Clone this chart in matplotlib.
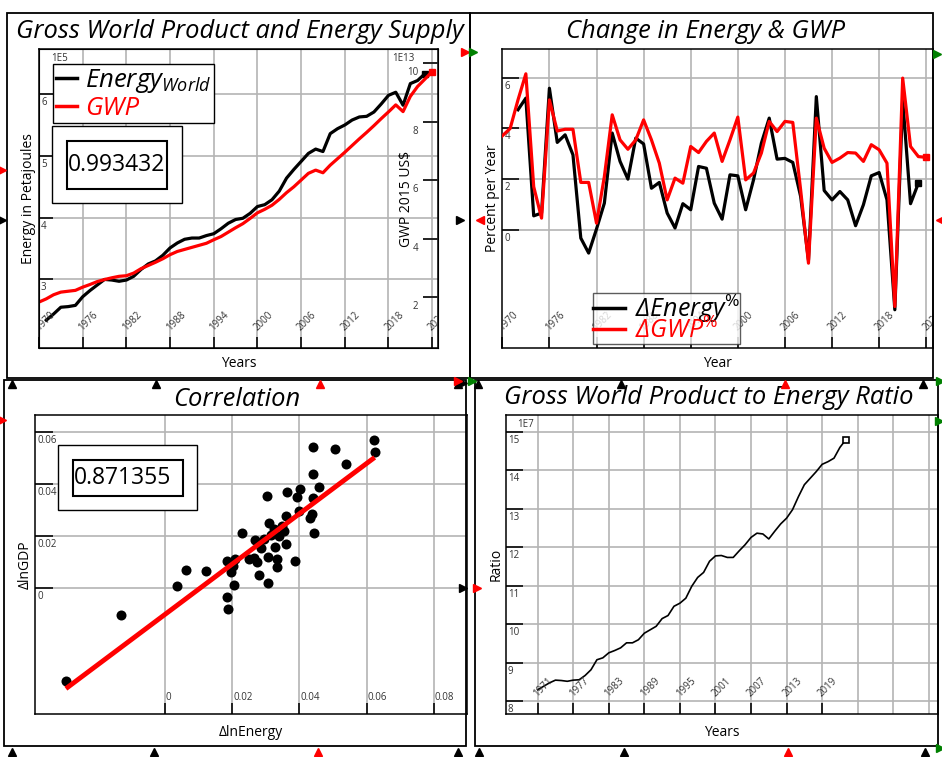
import numpy as np
import matplotlib.pyplot as plt
from matplotlib.patches import Rectangle
from matplotlib.lines import Line2D

# ---- data ----
energy_years = list(range(1971, 2024))
energy_world = [2.34, 2.44, 2.55, 2.56, 2.58, 2.72, 2.82, 2.91, 3.00, 2.99,
                2.97, 2.99, 3.05, 3.16, 3.25, 3.30, 3.39, 3.51, 3.59, 3.65,
                3.67, 3.67, 3.71, 3.74, 3.82, 3.91, 3.97, 3.99, 4.07, 4.18,
                4.21, 4.29, 4.43, 4.64, 4.78, 4.91, 5.04, 5.11, 5.07, 5.36,
                5.44, 5.50, 5.58, 5.63, 5.64, 5.71, 5.84, 5.98, 6.03, 5.82,
                6.17, 6.22, 6.33]  # 1E5 PJ

gwp_years = list(range(1970, 2025))
gwp = [1.83, 1.94, 2.08, 2.17, 2.20, 2.23, 2.34, 2.43, 2.53, 2.60,
       2.66, 2.71, 2.73, 2.82, 2.97, 3.08, 3.19, 3.31, 3.45, 3.56,
       3.63, 3.70, 3.77, 3.84, 3.96, 4.07, 4.22, 4.37, 4.51, 4.69,
       4.88, 5.00, 5.14, 5.34, 5.57, 5.77, 6.00, 6.23, 6.34, 6.25,
       6.51, 6.73, 6.95, 7.18, 7.41, 7.63, 7.86, 8.10, 8.33, 8.57,
       8.34, 8.86, 9.20, 9.45, 9.71]  # 1E13 2015 US$

d_energy_years = list(range(1972, 2024))
d_energy = [4.74, 5.20, 0.55, 0.66, 5.59, 3.45, 3.75, 2.96, -0.33, -0.92,
            0.03, 1.05, 3.82, 2.70, 2.00, 3.62, 3.39, 1.64, 1.87, 0.66,
            0.07, 1.03, 0.79, 2.50, 2.43, 1.05, 0.42, 2.17, 2.13, 0.79,
            1.97, 3.42, 4.41, 2.79, 2.82, 2.66, 1.32, -1.20, 5.26, 1.55,
            1.18, 1.51, 1.18, 0.16, 0.99, 2.13, 2.26, 1.18, -3.16, 5.13,
            1.03, 1.84]

d_gwp_years = list(range(1970, 2025))
d_gwp = [3.71, 4.00, 5.13, 6.16, 1.70, 0.46, 5.13, 3.90, 3.97, 3.97,
         1.87, 1.87, 0.26, 2.10, 4.54, 3.55, 3.18, 3.55, 4.34, 3.55,
         2.63, 1.18, 2.04, 1.84, 3.29, 3.05, 3.49, 3.82, 2.70, 3.55,
         4.45, 1.97, 2.24, 3.03, 4.28, 3.88, 4.28, 4.24, 1.58, -1.32,
         4.41, 3.22, 2.66, 2.83, 3.05, 3.03, 2.70, 3.36, 3.16, 2.63,
         -3.03, 5.99, 3.29, 2.89, 2.86]

dln_energy = [-0.0295, -0.0132, 0.0037, 0.0063, 0.0123, 0.0185, 0.0208, 0.0196,
              0.0203, 0.0206, 0.0185, 0.0188, 0.0228, 0.0251, 0.0269, 0.0266,
              0.0275, 0.0279, 0.0287, 0.0295, 0.0306, 0.0308, 0.0304, 0.0311,
              0.0323, 0.0328, 0.0333, 0.0334, 0.0347, 0.0353, 0.0359, 0.0360,
              0.0364, 0.0387, 0.0392, 0.0402, 0.0399, 0.0432, 0.0437, 0.0444,
              0.0442, 0.0440, 0.0459, 0.0442, 0.0505, 0.0540, 0.0622, 0.0624,
              0.0316, 0.0340]
dln_gdp = [-0.0357, -0.0104, 0.0008, 0.0071, 0.0064, 0.0103, 0.0112, 0.0060,
           0.0083, 0.0010, -0.0033, -0.0083, 0.0211, 0.0112, 0.0186, 0.0116,
           0.0099, 0.0049, 0.0154, 0.0188, 0.0021, 0.0118, 0.0353, 0.0250,
           0.0229, 0.0157, 0.0113, 0.0080, 0.0238, 0.0218, 0.0170, 0.0276,
           0.0369, 0.0105, 0.0351, 0.0382, 0.0295, 0.0270, 0.0285, 0.0212,
           0.0347, 0.0441, 0.0388, 0.0543, 0.0536, 0.0478, 0.0572, 0.0525,
           0.0205, 0.0200]
fit_slope = 0.97
fit_intercept = -0.0102

ratio_years = list(range(1971, 2024))
ratio = [8.30, 8.39, 8.48, 8.55, 8.54, 8.52, 8.55, 8.56, 8.67, 8.82,
         9.08, 9.13, 9.26, 9.32, 9.39, 9.52, 9.52, 9.60, 9.77, 9.86,
         9.95, 10.15, 10.23, 10.47, 10.55, 10.68, 10.99, 11.22, 11.35, 11.64,
         11.78, 11.79, 11.74, 11.74, 11.91, 12.07, 12.26, 12.37, 12.35, 12.22,
         12.42, 12.61, 12.76, 12.98, 13.32, 13.63, 13.80, 13.97, 14.16, 14.23,
         14.32, 14.60, 14.80]  # 1E7

corr_gwp_energy = '0.993432'
corr_dln = '0.871355'

# ---- style ----
W, H = 942, 757
plt.rcParams['font.family'] = ['Open Sans', 'DejaVu Sans']
plt.rcParams['mathtext.fontset'] = 'custom'
plt.rcParams['mathtext.rm'] = 'Open Sans'
plt.rcParams['mathtext.it'] = 'Open Sans:italic'
GRID = '#b4b4b4'
TICKC = '#333333'
TICKFS = 7

fig = plt.figure(figsize=(W / 100, H / 100), dpi=100)


def fx(x):
    return x / W


def fy(y):
    return 1 - y / H


def px_axes(x0, y0, x1, y1):
    return fig.add_axes([fx(x0), fy(y1), (x1 - x0) / W, (y1 - y0) / H])


def base_style(ax, xgrid, ygrid, xticks, yticks, ylen=11):
    for v in xgrid:
        ax.axvline(v, color=GRID, lw=1.2, zorder=0)
    for v in ygrid:
        ax.axhline(v, color=GRID, lw=1.2, zorder=0)
    ax.set_xticks(xticks)
    ax.set_yticks(yticks)
    ax.tick_params(axis='x', direction='in', length=8, width=1.4, color='#222222',
                   labelbottom=False)
    ax.tick_params(axis='y', direction='in', length=ylen, width=1.4, color='#222222',
                   labelleft=False)
    for s in ax.spines.values():
        s.set_linewidth(1.1)


def rot_labels(ax, years, clip=True):
    for yr in years:
        t = ax.annotate(str(yr), xy=(yr, 0), xycoords=('data', 'axes fraction'),
                        xytext=(2, 15), textcoords='offset pixels', rotation=45,
                        rotation_mode='anchor', ha='left', va='bottom',
                        fontsize=TICKFS, color=TICKC)
        if clip:
            t.set_clip_path(ax.patch)


def left_labels(ax, vals, fmt):
    for v in vals:
        ax.annotate(fmt(v), xy=(0, v), xycoords=('axes fraction', 'data'),
                    xytext=(2, -3), textcoords='offset pixels', ha='left', va='top',
                    fontsize=TICKFS, color=TICKC)


# ---- Gross World Product and Energy Supply ----
ax1 = px_axes(39, 49, 438, 348)
ax1.set_xlim(1970, 2024.8)
ax1.set_ylim(1.89, 6.73)
base_style(ax1, range(1976, 2025, 6), [3, 4, 5, 6], range(1970, 2025, 6), [3, 4, 5, 6], ylen=10)
ax1.plot(energy_years, energy_world, color='black', lw=2.3)
ax1.plot(energy_years[-1], energy_world[-1], 's', color='black', ms=5)
rot_labels(ax1, range(1970, 2025, 6))
left_labels(ax1, [3, 4, 5, 6], lambda v: str(v))
ax1.text(0.03, 0.985, '1E5', transform=ax1.transAxes, fontsize=TICKFS, color=TICKC, va='top')

ax1r = ax1.twinx()
ax1r.set_ylim(0.26, 10.48)
ax1r.set_yticks([2, 4, 6, 8, 10])
ax1r.tick_params(axis='y', direction='in', length=11, width=1.4, color='#222222',
                 labelright=False)
ax1r.plot(gwp_years, gwp, color='red', lw=2.3)
ax1r.plot(gwp_years[-1], gwp[-1], 's', color='red', ms=5)
for v in [2, 4, 6, 8, 10]:
    ax1r.annotate(str(v), xy=(1, v), xycoords=('axes fraction', 'data'),
                  xytext=(-20, -4), textcoords='offset pixels', ha='right', va='top',
                  fontsize=TICKFS, color=TICKC)
ax1r.text(0.885, 0.985, '1E13', transform=ax1r.transAxes, fontsize=TICKFS, color=TICKC, va='top')
ax1r.set_ylabel('GWP 2015 US$', fontsize=10, labelpad=-28)
ax1.set_ylabel('Energy in Petajoules', fontsize=10, labelpad=2)
ax1.set_xlabel('Years', fontsize=10, labelpad=6)

leg1 = ax1r.legend(handles=[Line2D([], [], color='black', lw=2.5),
                            Line2D([], [], color='red', lw=2.5)],
                   labels=[r'Energy$_{\mathit{World}}$', 'GWP'],
                   loc='upper left', bbox_to_anchor=(0.035, 0.95),
                   prop={'size': 18.5, 'style': 'italic'}, labelcolor=['black', 'red'],
                   fancybox=False, edgecolor='black', framealpha=1, borderpad=0.1,
                   handlelength=0.85, handletextpad=0.3, labelspacing=0.05,
                   borderaxespad=0)
leg1.get_frame().set_linewidth(1.0)
ax1r.add_patch(Rectangle((0.033, 0.485), 0.325, 0.257, transform=ax1r.transAxes,
                         facecolor='white', edgecolor='black', lw=1.0, zorder=5))
ax1r.add_patch(Rectangle((0.070, 0.532), 0.251, 0.160, transform=ax1r.transAxes,
                         facecolor='white', edgecolor='black', lw=1.5, zorder=6))
ax1r.text(0.072, 0.612, corr_gwp_energy, transform=ax1r.transAxes, fontsize=16.5,
          ha='left', va='center', zorder=7)

# ---- Change in Energy & GWP ----
ax2 = px_axes(502.3, 49, 933.3, 348)
ax2.set_xlim(1970, 2024.9)
ax2.set_ylim(-4.67, 7.14)
base_style(ax2, range(1976, 2025, 6), [0, 2, 4, 6], range(1970, 2025, 6), [0, 2, 4, 6], ylen=12)
ax2.plot(d_energy_years, d_energy, color='black', lw=2.3, zorder=3)
ax2.plot(d_energy_years[-1], d_energy[-1], 's', color='black', ms=5, zorder=3)
ax2.plot(d_gwp_years, d_gwp, color='red', lw=2.3, zorder=4)
ax2.plot(d_gwp_years[-1], d_gwp[-1], 's', color='red', ms=5, zorder=4)
rot_labels(ax2, range(1970, 2025, 6))
left_labels(ax2, [0, 2, 4, 6], lambda v: str(v))
ax2.set_ylabel('Percent per Year', fontsize=10, labelpad=2)
ax2.set_xlabel('Year', fontsize=10, labelpad=6)
leg2 = ax2.legend(handles=[Line2D([], [], color='black', lw=2.5),
                           Line2D([], [], color='red', lw=2.5)],
                  labels=['ΔEnergy$^{\\%}$', 'ΔGWP$^{\\%}$'],
                  loc='lower left', bbox_to_anchor=(0.21, 0.013),
                  prop={'size': 18, 'style': 'italic'}, labelcolor=['black', 'red'],
                  fancybox=False, edgecolor='#333333', framealpha=0.8, borderpad=0.0,
                  handlelength=1.3, handletextpad=0.4, labelspacing=-0.3,
                  borderaxespad=0)
leg2.get_frame().set_linewidth(1.0)
leg2.set_zorder(10)

# ---- Correlation ----
ax3 = px_axes(35.3, 414.7, 466.7, 714)
ax3.set_xlim(-0.0386, 0.0898)
ax3.set_ylim(-0.0486, 0.0668)
xt3 = [0, 0.02, 0.04, 0.06, 0.08]
yt3 = [0, 0.02, 0.04, 0.06]
base_style(ax3, xt3, yt3, xt3, yt3, ylen=13)
ax3.scatter(dln_energy, dln_gdp, s=52, color='black', zorder=3, linewidths=0)
fit_x = np.array([min(dln_energy), max(dln_energy)])
ax3.plot(fit_x, fit_slope * fit_x + fit_intercept, color='red', lw=3.5, zorder=4,
         solid_capstyle='butt')
for v in xt3:
    ax3.annotate('0' if v == 0 else '%.2f' % v, xy=(v, 0), xycoords=('data', 'axes fraction'),
                 xytext=(1, 11), textcoords='offset pixels', ha='left', va='bottom',
                 fontsize=TICKFS, color=TICKC)
left_labels(ax3, yt3, lambda v: '0' if v == 0 else '%.2f' % v)
ax3.set_xlabel('ΔlnEnergy', fontsize=10, labelpad=8)
ax3.set_ylabel('ΔlnGDP', fontsize=10, labelpad=2)
ax3.add_patch(Rectangle((0.0526, 0.682), 0.322, 0.217, transform=ax3.transAxes,
                        facecolor='white', edgecolor='black', lw=1.0, zorder=5))
ax3.add_patch(Rectangle((0.0874, 0.728), 0.255, 0.121, transform=ax3.transAxes,
                        facecolor='white', edgecolor='black', lw=1.5, zorder=6))
ax3.text(0.089, 0.787, corr_dln, transform=ax3.transAxes, fontsize=16.5,
         ha='left', va='center', zorder=7)

# ---- Gross World Product to Energy Ratio ----
ax4 = px_axes(506, 414.7, 938.3, 714)
ax4.set_xlim(1965.66, 2038.6)
ax4.set_ylim(7.67, 15.45)
base_style(ax4, range(1971, 2038, 6), range(8, 16), range(1971, 2020, 6), range(8, 16), ylen=12)
ax4.plot(ratio_years, ratio, color='black', lw=1.2)
ax4.plot(ratio_years[-1], ratio[-1], 's', mfc='white', mec='black', ms=5, mew=1.2)
rot_labels(ax4, range(1971, 2020, 6))
left_labels(ax4, range(8, 16), lambda v: str(v))
ax4.text(0.025, 0.985, '1E7', transform=ax4.transAxes, fontsize=TICKFS, color=TICKC, va='top')
ax4.set_xlabel('Years', fontsize=10, labelpad=8)
ax4.set_ylabel('Ratio', fontsize=10, labelpad=2)

# ---- titles ----
title_kw = dict(fontsize=18.4, style='italic', ha='center', va='center')
fig.text(fx(240), fy(32), 'Gross World Product and Energy Supply', **title_kw)
fig.text(fx(705), fy(32), 'Change in Energy & GWP', **title_kw)
fig.text(fx(237), fy(399), 'Correlation', **title_kw)
fig.text(fx(709), fy(398), 'Gross World Product to Energy Ratio', **title_kw)

# ---- panel frames ----
for x0, y0, x1, y1 in [(7, 13, 470, 378), (470, 13, 933, 378),
                       (4, 380, 466, 746), (475, 380, 938, 746)]:
    fig.add_artist(Rectangle((fx(x0), fy(y1)), (x1 - x0) / W, (y1 - y0) / H,
                             transform=fig.transFigure, fill=False,
                             edgecolor='black', lw=1.3))

# ---- layer handle markers along the panel edges ----
ov = fig.add_axes([0, 0, 1, 1], zorder=20)
ov.set_xlim(0, W)
ov.set_ylim(H, 0)
ov.axis('off')
handles_k = [(2, 220, '>'), (460, 220, '>'), (12, 384, '^'), (156, 384, '^'),
             (458, 384, '^'), (12, 752, '^'), (154, 752, '^'), (458, 752, '^'),
             (463, 588, '>'), (478, 384, '^'), (621, 384, '^'), (923, 384, '^'),
             (479, 752, '^'), (624, 752, '^'), (925, 752, '^'), (463, 383, '>')]
handles_r = [(2, 170, '>'), (465, 52, '>'), (480, 220, '<'), (940, 220, '<'),
             (320, 384, '^'), (318, 752, '^'), (785, 384, '^'), (788, 752, '^'),
             (477, 588, '>'), (458, 381, '>'), (2, 420, '>')]
handles_g = [(473, 52, '>'), (937, 54, '>'), (472, 381, '>'), (940, 381, '>'),
             (939, 421, '>'), (940, 748, '>')]
for pts, col in [(handles_k, 'black'), (handles_r, 'red'), (handles_g, 'green')]:
    for x, y, m in pts:
        ov.plot(x, y, m, color=col, ms=6, clip_on=False)

fig.savefig('out.png', dpi=100)
